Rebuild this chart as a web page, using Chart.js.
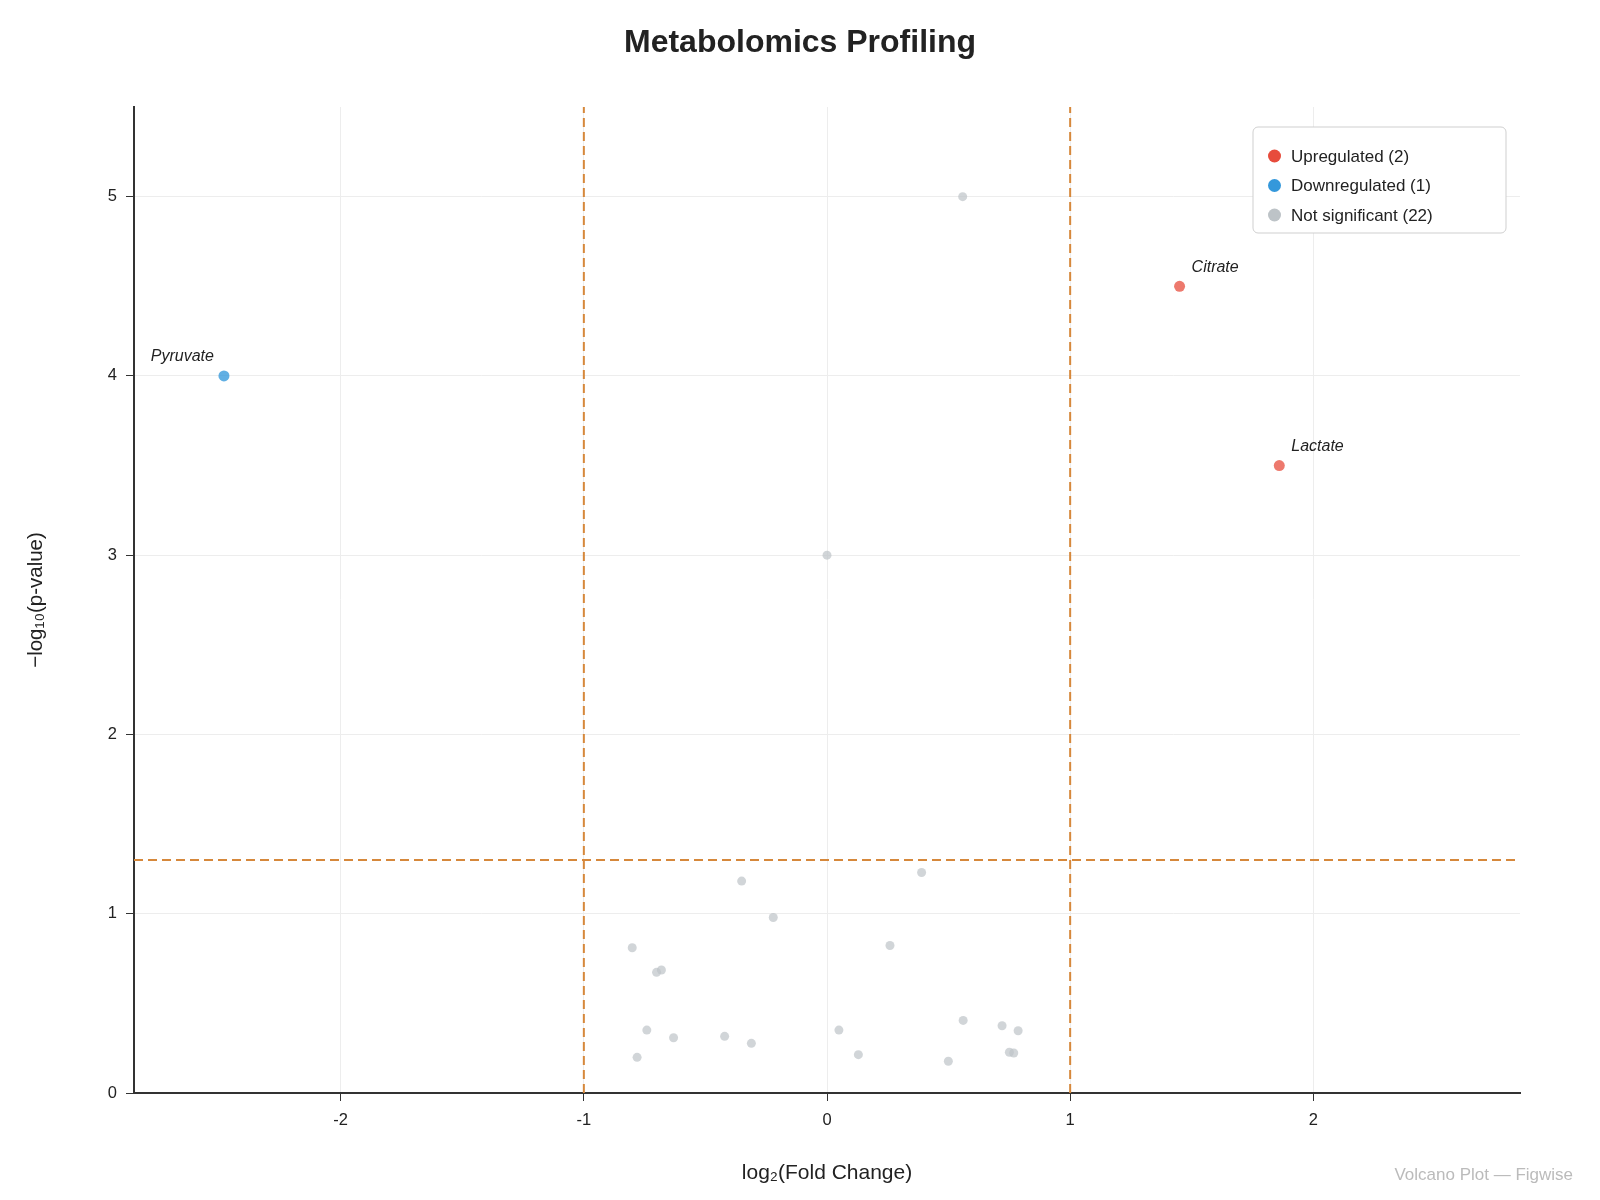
<!DOCTYPE html>
<html>
<head>
<meta charset="utf-8">
<script src="https://cdn.jsdelivr.net/npm/chart.js@4.4.1/dist/chart.umd.min.js"></script>
<style>
  html, body { margin: 0; padding: 0; background: #fff; }
  #wrap { width: 1600px; height: 1200px; position: relative; }
</style>
</head>
<body>
<div id="wrap"><canvas id="volcano" width="1600" height="1200"></canvas></div>
<script>
// significant metabolites
const upNames = ["Citrate", "Lactate"];
const upFC = [1.45, 1.86];
const upP = [4.5, 3.5];

const downNames = ["Pyruvate"];
const downFC = [-2.48];
const downP = [4.0];

// not significant
const nsFC = [0.558, 0, 0.389, -0.351, -0.221, 0.259, -0.801, -0.701, -0.681, -0.741, -0.631,
              -0.421, -0.311, -0.781, 0.049, 0.129, 0.499, 0.560, 0.720, 0.786, 0.750, 0.768];
const nsP = [5.0, 3.0, 1.230, 1.182, 0.979, 0.823, 0.810, 0.673, 0.686, 0.351, 0.308,
             0.316, 0.277, 0.199, 0.351, 0.214, 0.177, 0.405, 0.375, 0.347, 0.227, 0.223];

const fcCutoff = 1;
const pCutoff = 1.3;
const xRange = [-2.85, 2.85];
const yRange = [0, 5.5];
const xTicks = [-2, -1, 0, 1, 2];
const yTicks = [0, 1, 2, 3, 4, 5];

const FONT = "'Liberation Sans', Arial, Helvetica, sans-serif";
const LINE_COLOR = "#d6883b";

const toPoints = (xs, ys) => xs.map((x, i) => ({ x: x, y: ys[i] }));

const datasets = [
  {
    label: "fc-low", showLine: true, pointRadius: 0, borderColor: LINE_COLOR,
    borderWidth: 2, borderDash: [9, 5], data: [{ x: -fcCutoff, y: yRange[0] }, { x: -fcCutoff, y: yRange[1] }],
  },
  {
    label: "fc-high", showLine: true, pointRadius: 0, borderColor: LINE_COLOR,
    borderWidth: 2, borderDash: [9, 5], data: [{ x: fcCutoff, y: yRange[0] }, { x: fcCutoff, y: yRange[1] }],
  },
  {
    label: "p-cut", showLine: true, pointRadius: 0, borderColor: LINE_COLOR,
    borderWidth: 2, borderDash: [9, 5], data: [{ x: xRange[0], y: pCutoff }, { x: xRange[1], y: pCutoff }],
  },
  {
    label: "Not significant (" + nsFC.length + ")", legend: true, legendColor: "#bdc3c7",
    data: toPoints(nsFC, nsP), backgroundColor: "rgba(189,195,199,0.7)", borderWidth: 0, pointRadius: 4.5,
  },
  {
    label: "Downregulated (" + downFC.length + ")", legend: true, legendColor: "#3498db", names: downNames,
    data: toPoints(downFC, downP), backgroundColor: "rgba(52,152,219,0.78)", borderWidth: 0, pointRadius: 5.5,
  },
  {
    label: "Upregulated (" + upFC.length + ")", legend: true, legendColor: "#e74c3c", names: upNames,
    data: toPoints(upFC, upP), backgroundColor: "rgba(231,76,60,0.75)", borderWidth: 0, pointRadius: 5.5,
  },
];

// title, point labels, legend box, footer
const decorations = {
  id: "decorations",
  afterDatasetsDraw(chart) {
    const ctx = chart.ctx;
    const xs = chart.scales.x, ys = chart.scales.y;

    ctx.save();
    ctx.fillStyle = "#222";
    ctx.font = "italic 16px " + FONT;
    ctx.textBaseline = "middle";
    chart.data.datasets.forEach((ds) => {
      if (!ds.names) return;
      ds.data.forEach((p, i) => {
        const px = xs.getPixelForValue(p.x);
        const py = ys.getPixelForValue(p.y);
        if (p.x < 0) {
          ctx.textAlign = "right";
          ctx.fillText(ds.names[i], px - 10, py - 19);
        } else {
          ctx.textAlign = "left";
          ctx.fillText(ds.names[i], px + 12, py - 19);
        }
      });
    });
    ctx.restore();
  },
  afterDraw(chart) {
    const ctx = chart.ctx;
    ctx.save();

    ctx.fillStyle = "#222";
    ctx.font = "bold 32px " + FONT;
    ctx.textAlign = "center";
    ctx.textBaseline = "middle";
    ctx.fillText("Metabolomics Profiling", 800, 43);

    // legend
    const items = chart.data.datasets.filter((d) => d.legend).reverse();
    const bx = 1253, by = 127, bw = 253, bh = 106;
    ctx.beginPath();
    ctx.roundRect(bx, by, bw, bh, 5);
    ctx.fillStyle = "#fff";
    ctx.fill();
    ctx.strokeStyle = "#cfcfcf";
    ctx.lineWidth = 1;
    ctx.stroke();
    ctx.font = "17px " + FONT;
    ctx.textAlign = "left";
    items.forEach((d, i) => {
      const cy = by + 29 + i * 29.5;
      ctx.beginPath();
      ctx.arc(bx + 21.5, cy, 6.5, 0, Math.PI * 2);
      ctx.fillStyle = d.legendColor;
      ctx.fill();
      ctx.fillStyle = "#222";
      ctx.fillText(d.label, bx + 38, cy + 1);
    });

    ctx.fillStyle = "#bbb";
    ctx.font = "17px " + FONT;
    ctx.textAlign = "right";
    ctx.fillText("Volcano Plot \u2014 Figwise", 1573, 1175);
    ctx.restore();
  },
};

new Chart(document.getElementById("volcano"), {
  type: "scatter",
  data: { datasets: datasets },
  options: {
    responsive: false,
    animation: false,
    devicePixelRatio: 1,
    layout: { padding: { top: 107, right: 80, left: 0, bottom: 0 } },
    plugins: {
      legend: { display: false },
      title: { display: false },
      tooltip: { enabled: false },
    },
    scales: {
      x: {
        type: "linear",
        min: xRange[0],
        max: xRange[1],
        afterBuildTicks: (s) => { s.ticks = xTicks.map((v) => ({ value: v })); },
        afterFit: (s) => { s.height = 107; },
        grid: { color: "#ededed", tickColor: "#333", tickLength: 8, lineWidth: 1 },
        border: { color: "#333", width: 2 },
        ticks: { color: "#222", font: { family: FONT, size: 16.5 }, padding: 10 },
        title: {
          display: true, text: "log\u2082(Fold Change)", color: "#222",
          font: { family: FONT, size: 21 }, padding: { top: 0, bottom: 14 },
        },
      },
      y: {
        type: "linear",
        min: yRange[0],
        max: yRange[1],
        afterBuildTicks: (s) => { s.ticks = yTicks.map((v) => ({ value: v })); },
        afterFit: (s) => { s.width = 134; },
        grid: { color: "#ededed", tickColor: "#333", tickLength: 8, lineWidth: 1 },
        border: { color: "#333", width: 2 },
        ticks: { color: "#222", font: { family: FONT, size: 16.5 }, padding: 9 },
        title: {
          display: true, text: "\u2212log\u2081\u2080(p-value)", color: "#222",
          font: { family: FONT, size: 20.5 }, padding: { top: 24, bottom: 0 },
        },
      },
    },
  },
  plugins: [decorations],
});
</script>
</body>
</html>
